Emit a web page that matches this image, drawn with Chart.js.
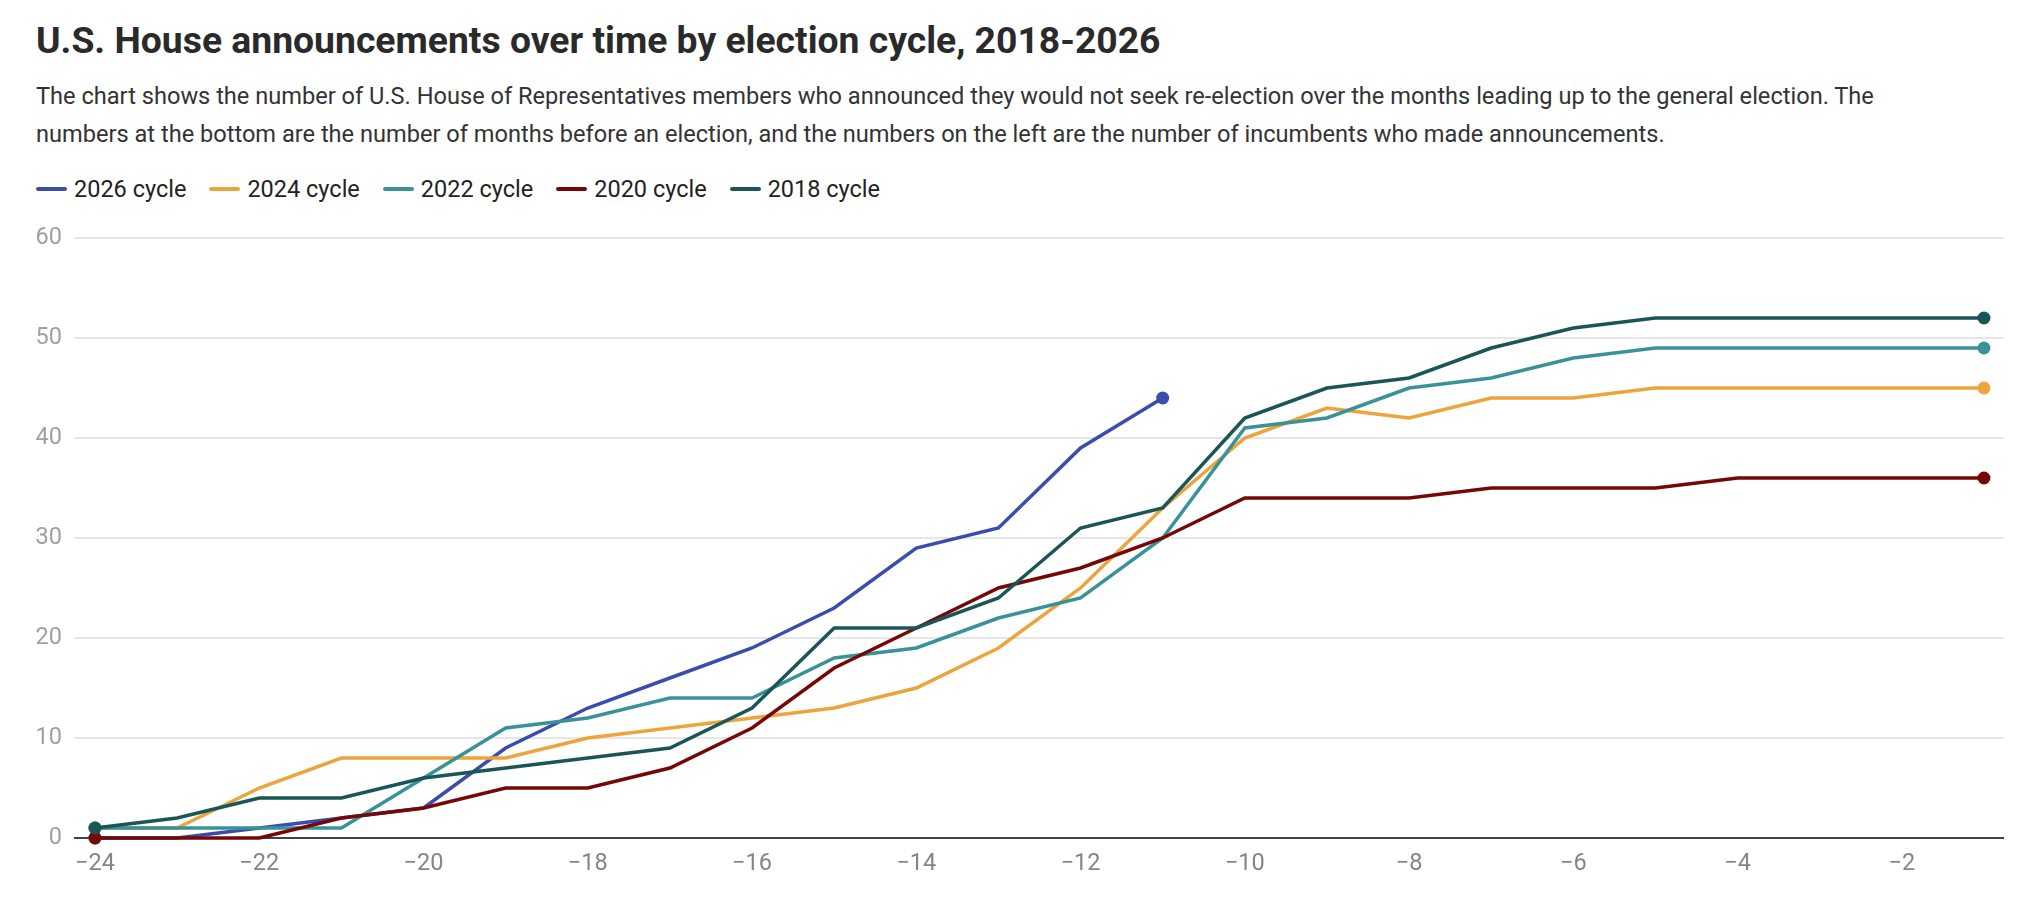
<!DOCTYPE html>
<html>
<head>
<meta charset="utf-8">
<script src="https://cdn.jsdelivr.net/npm/chart.js@4.4.1/dist/chart.umd.min.js"></script>
<style>
  html, body { margin: 0; padding: 0; background: #fff; }
  body { width: 2040px; height: 910px; position: relative; overflow: hidden; font-family: Roboto, "Noto Sans", sans-serif; }
  #title { position: absolute; left: 36px; top: 18px; font-size: 37.3px; font-weight: 700; color: #2a2a2a; white-space: nowrap; }
  #desc { position: absolute; left: 36px; top: 77px; width: 1880px; font-size: 23.6px; line-height: 38px; color: #333; }
  #legend { position: absolute; left: 36px; top: 172px; display: flex; align-items: center; font-size: 23.5px; color: #222; }
  .item { display: flex; align-items: center; margin-right: 23px; height: 34px; }
  .swatch { width: 31px; height: 4px; border-radius: 2px; margin-right: 7px; }
  #wrap { position: absolute; left: 0; top: 0; width: 2040px; height: 910px; }
</style>
</head>
<body>
<div id="title">U.S. House announcements over time by election cycle, 2018-2026</div>
<div id="desc">The chart shows the number of U.S. House of Representatives members who announced they would not seek re-election over the months leading up to the general election. The numbers at the bottom are the number of months before an election, and the numbers on the left are the number of incumbents who made announcements.</div>
<div id="legend"></div>
<div id="wrap"><canvas id="c" width="2040" height="910"></canvas></div>
<script>
// months before election
const months = [-24,-23,-22,-21,-20,-19,-18,-17,-16,-15,-14,-13,-12,-11,-10,-9,-8,-7,-6,-5,-4,-3,-2,-1];
const xTicks = [-24,-22,-20,-18,-16,-14,-12,-10,-8,-6,-4,-2];
const yTicks = [0,10,20,30,40,50,60];

const cycle2026 = [0,0,1,2,3,9,13,16,19,23,29,31,39,44];
const cycle2024 = [1,1,5,8,8,8,10,11,12,13,15,19,25,33,40,43,42,44,44,45,45,45,45,45];
const cycle2022 = [1,1,1,1,6,11,12,14,14,18,19,22,24,30,41,42,45,46,48,49,49,49,49,49];
const cycle2020 = [0,0,0,2,3,5,5,7,11,17,21,25,27,30,34,34,34,35,35,35,36,36,36,36];
const cycle2018 = [1,2,4,4,6,7,8,9,13,21,21,24,31,33,42,45,46,49,51,52,52,52,52,52];

const seriesNames = ["2026 cycle","2024 cycle","2022 cycle","2020 cycle","2018 cycle"];
const seriesValues = [cycle2026, cycle2024, cycle2022, cycle2020, cycle2018];
const seriesColors = ["#3a4dad","#eda43c","#3a9299","#760707","#1a5557"];
const drawOrder = [5,4,3,2,1];

// legend
const leg = document.getElementById('legend');
seriesNames.forEach((n,i)=>{
  const d = document.createElement('div'); d.className='item';
  d.innerHTML = '<span class="swatch" style="background:'+seriesColors[i]+'"></span><span>'+n+'</span>';
  leg.appendChild(d);
});

const datasets = seriesValues.map((vals,i)=>({
  label: seriesNames[i],
  data: vals.map((v,j)=>({x: months[j], y: v})),
  borderColor: seriesColors[i],
  backgroundColor: seriesColors[i],
  borderWidth: 3.5,
  tension: 0,
  order: drawOrder[i],
  clip: false,
  pointRadius: ctx => (ctx.dataIndex === 0 || ctx.dataIndex === vals.length-1) ? 6.5 : 0,
  pointHoverRadius: 0,
  pointBorderWidth: 0
}));

new Chart(document.getElementById('c'), {
  type: 'line',
  data: { datasets },
  options: {
    responsive: false,
    animation: false,
    devicePixelRatio: 1,
    layout: { padding: { top: 238, right: 36, left: 0, bottom: 0 } },
    plugins: { legend: { display: false }, tooltip: { enabled: false } },
    scales: {
      x: {
        type: 'linear',
        min: -24.256, max: -0.756,
        afterBuildTicks: s => { s.ticks = xTicks.map(v => ({value: v})); },
        afterFit: s => { s.height = 72; },
        grid: { display: false, drawTicks: false },
        border: { display: false },
        ticks: {
          padding: 12,
          color: '#858585',
          font: { family: 'Roboto', size: 23.5 },
          callback: v => String(v).replace('-', '\u2212'),
          maxRotation: 0, autoSkip: false
        }
      },
      y: {
        min: 0, max: 60,
        afterBuildTicks: s => { s.ticks = yTicks.map(v => ({value: v})); },
        afterFit: s => { s.width = 74; },
        border: { display: false },
        grid: {
          drawTicks: false,
          color: c => c.tick && c.tick.value === 0 ? '#444444' : '#e6e6e6',
          lineWidth: 2
        },
        ticks: {
          padding: 12,
          color: '#a0a0a0',
          font: { family: 'Roboto', size: 23.5 }
        }
      }
    }
  }
});
</script>
</body>
</html>
